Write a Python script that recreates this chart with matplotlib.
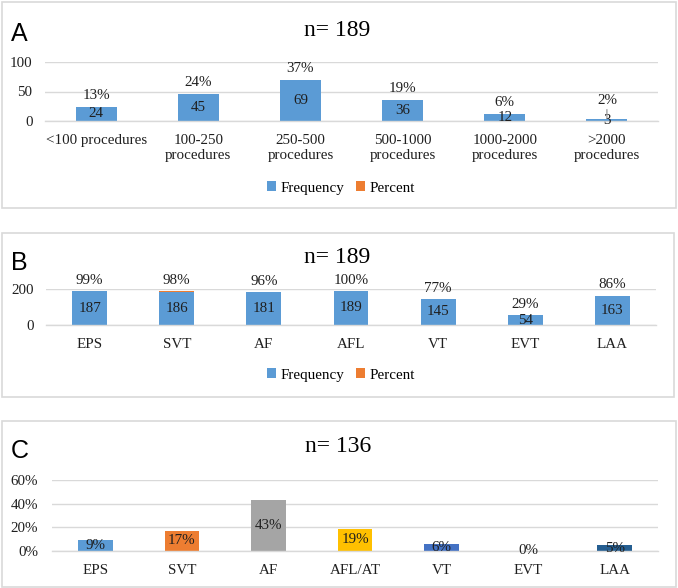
import matplotlib
matplotlib.use("Agg")
import matplotlib.pyplot as plt
from matplotlib.patches import Rectangle, Patch

# ---------------- data ----------------
cats_a = ["<100 procedures", "100-250\nprocedures", "250-500\nprocedures",
          "500-1000\nprocedures", "1000-2000\nprocedures", ">2000\nprocedures"]
freq_a = [24, 45, 69, 36, 12, 3]
pct_a = [13, 24, 37, 19, 6, 2]

cats_b = ["EPS", "SVT", "AF", "AFL", "VT", "EVT", "LAA"]
freq_b = [187, 186, 181, 189, 145, 54, 163]
pct_b = [99, 98, 96, 100, 77, 29, 86]

cats_c = ["EPS", "SVT", "AF", "AFL/AT", "VT", "EVT", "LAA"]
pct_c = [9, 17, 43, 19, 6, 0, 5]

title_a = "n= 189"
title_b = "n= 189"
title_c = "n= 136"

BLUE = "#5B9BD5"
ORANGE = "#ED7D31"
colors_c = ["#5B9BD5", "#ED7D31", "#A5A5A5", "#FFC000", "#4472C4", "#70AD47", "#255E91"]
GRID = "#D9D9D9"
TXT = "#1f1f1f"
SERIF = "Liberation Serif"
SANS = "Liberation Sans"
FS = 10.8

W, H = 678, 588
fig = plt.figure(figsize=(W / 100, H / 100), dpi=100)
fig.patch.set_facecolor("white")


def fx(x):
    return x / W


def fy(y):
    return 1 - y / H


def rect(x0, y0, x1, y1):
    return [fx(x0), fy(y1), fx(x1) - fx(x0), fy(y0) - fy(y1)]


def border(x0, y0, x1, y1):
    fig.patches.append(Rectangle((fx(x0), fy(y1)), fx(x1) - fx(x0), fy(y0) - fy(y1),
                                 transform=fig.transFigure, fill=False,
                                 edgecolor=GRID, linewidth=1.2))


def style_axes(ax, ticks, ticklabels, xl, xlabels, ypad):
    for s in ["top", "right", "left"]:
        ax.spines[s].set_visible(False)
    ax.spines["bottom"].set_color(GRID)
    ax.spines["bottom"].set_linewidth(1.0)
    ax.set_yticks(ticks)
    ax.set_yticklabels(ticklabels, fontfamily=SERIF, fontsize=FS, color=TXT)
    ax.yaxis.grid(True, color=GRID, linewidth=1.0)
    ax.set_axisbelow(True)
    ax.set_xticks(xl)
    ax.set_xticklabels(xlabels, fontfamily=SERIF, fontsize=FS, color=TXT, linespacing=1.2)
    ax.tick_params(axis="both", length=0)
    ax.tick_params(axis="x", pad=9.5)
    ax.tick_params(axis="y", pad=ypad)
    ax.set_facecolor("none")


def legend(y):
    handles = [Patch(facecolor=BLUE, edgecolor="none", label="Frequency"),
               Patch(facecolor=ORANGE, edgecolor="none", label="Percent")]
    fig.legend(handles=handles, loc="center", bbox_to_anchor=(fx(341), fy(y)),
               ncol=2, frameon=False, handlelength=0.6, handleheight=0.6,
               handletextpad=0.3, columnspacing=0.8,
               prop={"family": SERIF, "size": FS})


# ---------------- Panel A ----------------
border(2, 2, 676, 208)
axA = fig.add_axes(rect(45, 62, 658, 121))
xa = list(range(len(cats_a)))
axA.bar(xa, freq_a, width=0.4, color=BLUE)
pa_frac = [p / 100 for p in pct_a]
axA.bar(xa, pa_frac, width=0.4, bottom=freq_a, color=ORANGE)
axA.set_xlim(-0.5, len(cats_a) - 0.5)
axA.set_ylim(0, 100)
style_axes(axA, [0, 50, 100], ["0", "50", "100"], xa, cats_a, 9)
for i, (f, p) in enumerate(zip(freq_a, pct_a)):
    axA.text(i, f / 2, str(f), ha="center", va="center", fontfamily=SERIF,
             fontsize=FS, color=TXT)
    if i == len(cats_a) - 1:
        axA.annotate(f"{p}%", xy=(i, f + pa_frac[i]), xytext=(0, 9),
                     textcoords="offset points", ha="center", va="bottom",
                     fontfamily=SERIF, fontsize=FS, color=TXT,
                     arrowprops=dict(arrowstyle="-", color="#8c8c8c", lw=0.8,
                                     shrinkA=0, shrinkB=1))
    else:
        axA.annotate(f"{p}%", xy=(i, f + pa_frac[i]), xytext=(0, 3.5),
                     textcoords="offset points", ha="center", va="bottom",
                     fontfamily=SERIF, fontsize=FS, color=TXT)
fig.text(fx(337), fy(31), title_a, ha="center", va="center", fontfamily=SERIF,
         fontsize=17, color="black")
fig.text(fx(11), fy(34), "A", ha="left", va="center", fontfamily=SANS,
         fontsize=18, color="black")
legend(188)

# ---------------- Panel B ----------------
border(2, 233, 674, 397)
axB = fig.add_axes(rect(46, 289, 656, 325))
xb = list(range(len(cats_b)))
axB.bar(xb, freq_b, width=0.4, color=BLUE)
pb_frac = [p / 100 for p in pct_b]
axB.bar(xb, pb_frac, width=0.4, bottom=freq_b, color=ORANGE)
axB.set_xlim(-0.5, len(cats_b) - 0.5)
axB.set_ylim(0, 200)
style_axes(axB, [0, 200], ["0", "200"], xb, cats_b, 9)
for i, (f, p) in enumerate(zip(freq_b, pct_b)):
    axB.text(i, f / 2, str(f), ha="center", va="center", fontfamily=SERIF,
             fontsize=FS, color=TXT)
    axB.annotate(f"{p}%", xy=(i, f + pb_frac[i]), xytext=(0, 3),
                 textcoords="offset points", ha="center", va="bottom",
                 fontfamily=SERIF, fontsize=FS, color=TXT)
fig.text(fx(337), fy(258), title_b, ha="center", va="center", fontfamily=SERIF,
         fontsize=17, color="black")
fig.text(fx(11), fy(263), "B", ha="left", va="center", fontfamily=SANS,
         fontsize=18, color="black")
legend(375)

# ---------------- Panel C ----------------
border(2, 421, 676, 587)
axC = fig.add_axes(rect(52, 480, 658, 551))
xc = list(range(len(cats_c)))
vals_c = [p / 100 for p in pct_c]
axC.bar(xc, vals_c, width=0.4, color=colors_c)
axC.set_xlim(-0.5, len(cats_c) - 0.5)
axC.set_ylim(0, 0.6)
style_axes(axC, [0, 0.2, 0.4, 0.6], ["0%", "20%", "40%", "60%"], xc, cats_c, 10)
for i, v in enumerate(vals_c):
    axC.text(i, v / 2, f"{pct_c[i]}%", ha="center", va="center", fontfamily=SERIF,
             fontsize=FS, color=TXT)
fig.text(fx(338), fy(447), title_c, ha="center", va="center", fontfamily=SERIF,
         fontsize=17, color="black")
fig.text(fx(11), fy(451), "C", ha="left", va="center", fontfamily=SANS,
         fontsize=18, color="black")

fig.savefig("out.png", dpi=100, facecolor="white")
